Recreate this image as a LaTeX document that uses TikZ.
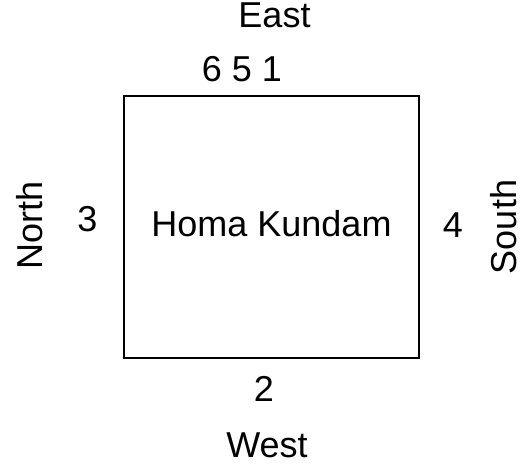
\documentclass[tikz,border=0pt]{standalone}
\usepackage{fontspec}
\setmainfont{Liberation Sans}
\begin{document}
\begin{tikzpicture}[x=1pt,y=1pt,
  lbl/.style={anchor=base,inner sep=0pt,font=\fontsize{36}{42}\selectfont},
  kund/.style={draw,line width=1.2pt,minimum width=295pt,minimum height=262pt,inner sep=0pt}]
\useasboundingbox (0,0) rectangle (523,468);
\node[kund] (kundam) at (271.5,241) {};
\node[lbl] (hk) at (271.5,231) {Homa Kundam};
\node[lbl] (east) at (274.5,440) {East};
\node[lbl] (top) at (242,386) {6 5 1};
\node[lbl] (three) at (87.5,236) {3};
\node[lbl] (four) at (453,230) {4};
\node[lbl] (two) at (264,66) {2};
\node[lbl] (west) at (267,10) {West};
\node[lbl,rotate=90] (north) at (42,243) {North};
\node[lbl,rotate=90] (south) at (516,241) {South};
\end{tikzpicture}
\end{document}
